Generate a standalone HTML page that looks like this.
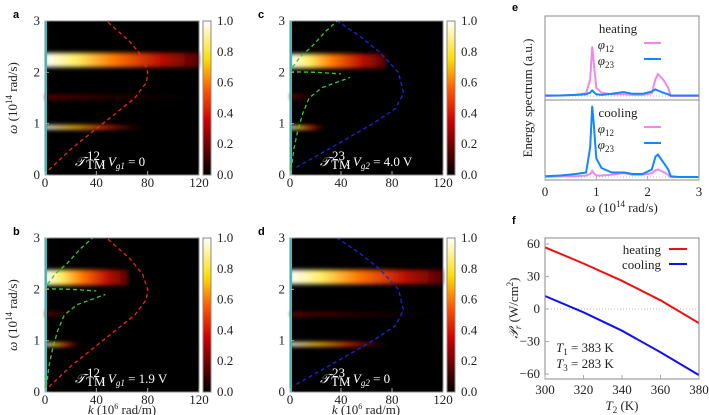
<!DOCTYPE html>
<html><head><meta charset="utf-8"><style>
body{margin:0;background:#fff}
svg{display:block;font-family:"Liberation Serif",serif}
.t{font-size:13px;fill:#222}
.w{font-size:13px;fill:#fff}
.p{font-family:"Liberation Sans",sans-serif;font-weight:bold;font-size:11px}
</style></head><body>
<svg id="fig" width="709" height="415" viewBox="0 0 709 415">
<defs>
<linearGradient id="cbar" x1="0" y1="1" x2="0" y2="0">
<stop offset="0" stop-color="#000"/><stop offset="0.35" stop-color="#c00"/><stop offset="0.55" stop-color="#f50"/><stop offset="0.75" stop-color="#fd0"/><stop offset="1" stop-color="#fff"/>
</linearGradient>
<linearGradient id="bandA" x1="0" x2="1"><stop offset="0" stop-color="#fff"/><stop offset="0.2" stop-color="#fe6"/><stop offset="0.45" stop-color="#f70"/><stop offset="0.75" stop-color="#b10"/><stop offset="1" stop-color="#500"/></linearGradient>
<linearGradient id="bandB" x1="0" x2="1"><stop offset="0" stop-color="#fff"/><stop offset="0.3" stop-color="#fb0"/><stop offset="0.6" stop-color="#c20"/><stop offset="1" stop-color="#300" stop-opacity="0"/></linearGradient>
<linearGradient id="bandC" x1="0" x2="1"><stop offset="0" stop-color="#600"/><stop offset="1" stop-color="#200" stop-opacity="0"/></linearGradient>
<filter id="bl" x="-0.1" y="-1" width="1.2" height="3"><feGaussianBlur stdDeviation="1.5 2"/></filter>
</defs>
</svg>
<script>
// ---- data ----
const kTicks=[0,40,80,120], wTicks=[0,1,2,3], cbTicks=[0,0.2,0.4,0.6,0.8,1.0];
const redW=[0.1,0.5,0.9,1.2,1.5,1.8,2.0,2.3,2.6,3.0];
const redK=[3,20,40,55,70,79,80,76,66,48];
const blueW=[0.15,0.5,1.0,1.3,1.6,2.0,2.4,2.7,3.0];
const blueK=[5,30,65,83,89,85,70,55,37];
const green1W=[0.1,0.5,0.85,1.2,1.5,1.7,1.9];
const green1K=[1,3,6,10,15,25,47];
const green2W=[2.01,2.0,1.97];
const green2K=[0,20,40];
const green3W=[2.1,2.3,2.5,2.8,3.0];
const green3K=[2,8,17,28,37];
const specW=[0,0.3,0.6,0.8,0.88,0.92,0.95,1.0,1.1,1.3,1.5,1.55,1.7,1.9,2.08,2.15,2.2,2.3,2.4,2.45,2.6,3.0];
const heatP=[0,0.01,0.02,0.05,0.3,0.9,0.6,0.15,0.06,0.03,0.03,0.03,0.02,0.02,0.05,0.3,0.4,0.3,0.15,0.0,0,0];
const heatB=[0.01,0.01,0.02,0.03,0.06,0.1,0.07,0.03,0.02,0.04,0.07,0.07,0.04,0.04,0.08,0.12,0.1,0.06,0.03,0.01,0.01,0.01];
const coolB=[0.01,0.02,0.04,0.06,0.4,0.95,0.7,0.25,0.12,0.06,0.06,0.06,0.04,0.04,0.1,0.27,0.3,0.2,0.1,0.01,0,0];
const coolP=[0,0.01,0.01,0.02,0.04,0.08,0.05,0.02,0.02,0.03,0.05,0.05,0.03,0.03,0.05,0.09,0.1,0.07,0.03,0,0,0];
const T2=[300,320,340,360,380];
const heatPr=[57,42,26,8,-13];
const coolPr=[12,-3,-20,-40,-61];
const prTicks=[-60,-30,0,30,60], tTicks=[300,320,340,360,380], eTicks=[0,1,2,3];

const svg=document.getElementById('fig');
const NS='http://www.w3.org/2000/svg';
function el(tag,attrs,parent,txt){const e=document.createElementNS(NS,tag);for(const a in attrs)e.setAttribute(a,attrs[a]);if(txt!==undefined)e.textContent=txt;(parent||svg).appendChild(e);return e;}
function poly(xs,ys,fx,fy){return xs.map((v,i)=>fx(v).toFixed(1)+','+fy(ys[i]).toFixed(1)).join(' ');}

function heat(P){
 const g=el('g',{});
 
 
 const fx=k=>P.x0+(k/120)*(P.x1-P.x0), fy=w=>P.y1-(w/3)*(P.y1-P.y0);
 el('rect',{x:P.x0,y:P.y0,width:P.x1-P.x0,height:P.y1-P.y0,fill:'#000'},g);
 const bg=el('g',{filter:'url(#bl)'},g);
 P.bands.forEach(b=>{const r=el('rect',{x:fx(0),y:fy(b[1]),width:fx(b[2])-fx(0),height:fy(b[0])-fy(b[1]),fill:'url(#'+b[3]+')'},bg);
  });
 el('line',{x1:P.x0+1,x2:P.x0+1,y1:P.y0,y2:P.y1,stroke:'#2cc',"stroke-width":2},g);
 P.curves.forEach(c=>{const l=el('polyline',{points:poly(c[1],c[0],fx,fy),fill:'none',stroke:c[2],"stroke-width":1.3,"stroke-dasharray":'4,3'},g);
  });
 el('rect',{x:P.x0,y:P.y0,width:P.x1-P.x0,height:P.y1-P.y0,fill:'none',stroke:'#888'},g);
 kTicks.forEach(k=>{el('line',{x1:fx(k),x2:fx(k),y1:P.y1,y2:P.y1-4,stroke:'#aaa'},g);el('text',{x:fx(k),y:P.y1+12,class:'t',"text-anchor":'middle'},g,k);});
 wTicks.forEach(w=>{el('line',{x1:P.x0,x2:P.x0+4,y1:fy(w),y2:fy(w),stroke:'#aaa'},g);el('text',{x:P.x0-5,y:fy(w)+4,class:'t',"text-anchor":'end'},g,w);});
 const cx=P.x1+4;
 el('rect',{x:cx,y:P.y0,width:8,height:P.y1-P.y0,fill:'url(#cbar)',stroke:'#888'},g);
 cbTicks.forEach(v=>{const y=P.y1-v*(P.y1-P.y0);el('text',{x:cx+14,y:y+4,class:'t'},g,v.toFixed(1));});
 const ly=P.y1-9;
 el('text',{x:P.lx,y:ly,class:'w',"font-style":'italic'},g,'𝒯');
 el('text',{x:P.lx+11,y:ly+3,class:'w',"font-size":'8'},g,'TM');
 el('text',{x:P.lx+12,y:ly-6,class:'w',"font-size":'8'},g,P.sup);
 const lab=el('text',{x:P.lx+26,y:ly,class:'w'},g);
 lab.innerHTML=': <tspan font-style="italic">V</tspan><tspan font-size="9" font-style="italic" dy="3">g'+P.gi+'</tspan><tspan dy="-3"> = '+P.val+'</tspan>';
 el('text',{x:P.x0-32,y:P.y0-3,class:'p'},g,P.letter);
}
const curvesRed=[[redW,redK,'#e22']], curvesBlue=[[blueW,blueK,'#22d']];
const curvesGreen=[[green1W,green1K,'#3c3'],[green2W,green2K,'#3c3'],[green3W,green3K,'#3c3']];
heat({name:'heatmap-a',letter:'a',x0:45,x1:199,y0:21,y1:175,lx:75,sup:'12',gi:'1',val:'0',
 bands:[[2.1,2.38,120,'bandA'],[0.89,0.97,80,'bandB'],[1.47,1.56,120,'bandC']],curves:curvesRed});
heat({name:'heatmap-c',letter:'c',x0:290,x1:443,y0:21,y1:175,lx:320,sup:'23',gi:'2',val:'4.0 V',
 bands:[[2.08,2.36,75,'bandA'],[0.89,0.96,30,'bandB'],[1.47,1.58,25,'bandC']],curves:curvesBlue.concat(curvesGreen)});
heat({name:'heatmap-b',letter:'b',x0:45,x1:199,y0:238,y1:392,lx:75,sup:'12',gi:'1',val:'1.9 V',
 bands:[[2.08,2.38,65,'bandA'],[0.89,0.96,30,'bandB'],[1.47,1.58,25,'bandC']],curves:curvesRed.concat(curvesGreen)});
heat({name:'heatmap-d',letter:'d',x0:290,x1:443,y0:238,y1:392,lx:320,sup:'23',gi:'2',val:'0',
 bands:[[2.1,2.38,120,'bandA'],[0.89,0.97,80,'bandB'],[1.47,1.56,120,'bandC']],curves:curvesBlue});
[['y-axis-title-top',98],['y-axis-title-bottom',315]].forEach(a=>{const t=el('text',{x:0,y:0,class:'t',transform:'translate(17,'+a[1]+') rotate(-90)',"text-anchor":'middle'});
 
 t.innerHTML='<tspan font-style="italic">ω</tspan> (10<tspan font-size="9" dy="-5">14</tspan><tspan dy="5"> rad/s)</tspan>';});
[['x-axis-title-b',122],['x-axis-title-d',366]].forEach(a=>{const t=el('text',{x:a[1],y:414,class:'t',"font-size":'12',"text-anchor":'middle'});
 
 t.innerHTML='<tspan font-style="italic">k</tspan> (10<tspan font-size="8" dy="-5">6</tspan><tspan dy="5"> rad/m)</tspan>';});

// ---- panel e ----
const ex0=545,ex1=699,fxE=w=>ex0+w/3*(ex1-ex0);
const ge=el('g',{});


el('text',{x:512,y:11,class:'p'},ge,'e');
[[16,100,96,55,heatP,heatB,'heating'],[100,180,177,75,coolP,coolB,'cooling']].forEach(s=>{
 const fy=v=>s[2]-v*s[3];
 el('line',{x1:ex0,x2:ex1,y1:s[2],y2:s[2],stroke:'#bbb',"stroke-dasharray":'1,2'},ge);
 [[s[4],'#e8e'],[s[5],'#18f']].forEach(o=>{const l=el('polyline',{points:poly(specW,o[0],fxE,fy),fill:'none',stroke:o[1],"stroke-width":2},ge);
  });
 el('rect',{x:ex0,y:s[0],width:ex1-ex0,height:s[1]-s[0],fill:'none',stroke:'#888'},ge);
 el('text',{x:618,y:s[0]+17,class:'t',"text-anchor":'middle'},ge,s[6]);
 const l1=el('text',{x:614,y:s[0]+33,class:'t',"text-anchor":'end'},ge);l1.innerHTML='<tspan font-style="italic">φ</tspan><tspan font-size="9" dy="3">12</tspan>';
 const l2=el('text',{x:614,y:s[0]+49,class:'t',"text-anchor":'end'},ge);l2.innerHTML='<tspan font-style="italic">φ</tspan><tspan font-size="9" dy="3">23</tspan>';
 el('line',{x1:644,x2:661,y1:s[0]+27,y2:s[0]+27,stroke:'#e8e',"stroke-width":2},ge);
 el('line',{x1:644,x2:661,y1:s[0]+43,y2:s[0]+43,stroke:'#18f',"stroke-width":2},ge);
});
eTicks.forEach(w=>{el('line',{x1:fxE(w),x2:fxE(w),y1:180,y2:176,stroke:'#aaa'},ge);el('text',{x:fxE(w),y:196,class:'t',"text-anchor":'middle'},ge,w);});
el('text',{x:0,y:0,class:'t',transform:'translate(532,98) rotate(-90)',"text-anchor":'middle'},ge,'Energy spectrum (a.u.)');
const ex=el('text',{x:622,y:212,class:'t',"text-anchor":'middle'},ge);ex.innerHTML='<tspan font-style="italic">ω</tspan> (10<tspan font-size="9" dy="-5">14</tspan><tspan dy="5"> rad/s)</tspan>';

// ---- panel f ----
const fx0=545,fx1=699,fy0=238,fy1=379;
const fxF=t=>fx0+(t-300)/80*(fx1-fx0), fyF=p=>244+(60-p)/120*130;
const gf=el('g',{});


el('text',{x:512,y:224,class:'p'},gf,'f');
el('line',{x1:fx0,x2:fx1,y1:fyF(0),y2:fyF(0),stroke:'#bbb',"stroke-dasharray":'1,2'},gf);
[[heatPr,'#e11','heating-line'],[coolPr,'#11e','cooling-line']].forEach(s=>{const l=el('polyline',{points:poly(T2,s[0],fxF,fyF),fill:'none',stroke:s[1],"stroke-width":2},gf);
 });
el('rect',{x:fx0,y:fy0,width:fx1-fx0,height:fy1-fy0,fill:'none',stroke:'#888'},gf);
prTicks.forEach(p=>{el('line',{x1:fx0,x2:fx0+4,y1:fyF(p),y2:fyF(p),stroke:'#aaa'},gf);el('text',{x:fx0-5,y:fyF(p)+4,class:'t',"text-anchor":'end'},gf,p<0?'−'+(-p):p);});
tTicks.forEach(t=>{el('line',{x1:fxF(t),x2:fxF(t),y1:fy1,y2:fy1-4,stroke:'#aaa'},gf);el('text',{x:fxF(t),y:fy1+15,class:'t',"text-anchor":'middle'},gf,t);});
el('text',{x:661,y:254,class:'t',"text-anchor":'end'},gf,'heating');
el('text',{x:661,y:269,class:'t',"text-anchor":'end'},gf,'cooling');
el('line',{x1:669,x2:687,y1:249,y2:249,stroke:'#e11',"stroke-width":2},gf);
el('line',{x1:669,x2:687,y1:264,y2:264,stroke:'#11e',"stroke-width":2},gf);
const a1=el('text',{x:556,y:352,class:'t'},gf);a1.innerHTML='<tspan font-style="italic">T</tspan><tspan font-size="9" dy="3">1</tspan><tspan dy="-3"> = 383 K</tspan>';
const a2=el('text',{x:556,y:368,class:'t'},gf);a2.innerHTML='<tspan font-style="italic">T</tspan><tspan font-size="9" dy="3">3</tspan><tspan dy="-3"> = 283 K</tspan>';
const fyt=el('text',{x:0,y:0,class:'t',transform:'translate(518,308) rotate(-90)',"text-anchor":'middle'},gf);
fyt.innerHTML='<tspan font-style="italic">𝒫</tspan><tspan font-size="9" font-style="italic" dy="3">r</tspan><tspan dy="-3"> (W/cm</tspan><tspan font-size="9" dy="-5">2</tspan><tspan dy="5">)</tspan>';
const fxt=el('text',{x:622,y:410,class:'t',"text-anchor":'middle'},gf);fxt.innerHTML='<tspan font-style="italic">T</tspan><tspan font-size="9" dy="3">2</tspan><tspan dy="-3"> (K)</tspan>';
</script>
</body></html>
